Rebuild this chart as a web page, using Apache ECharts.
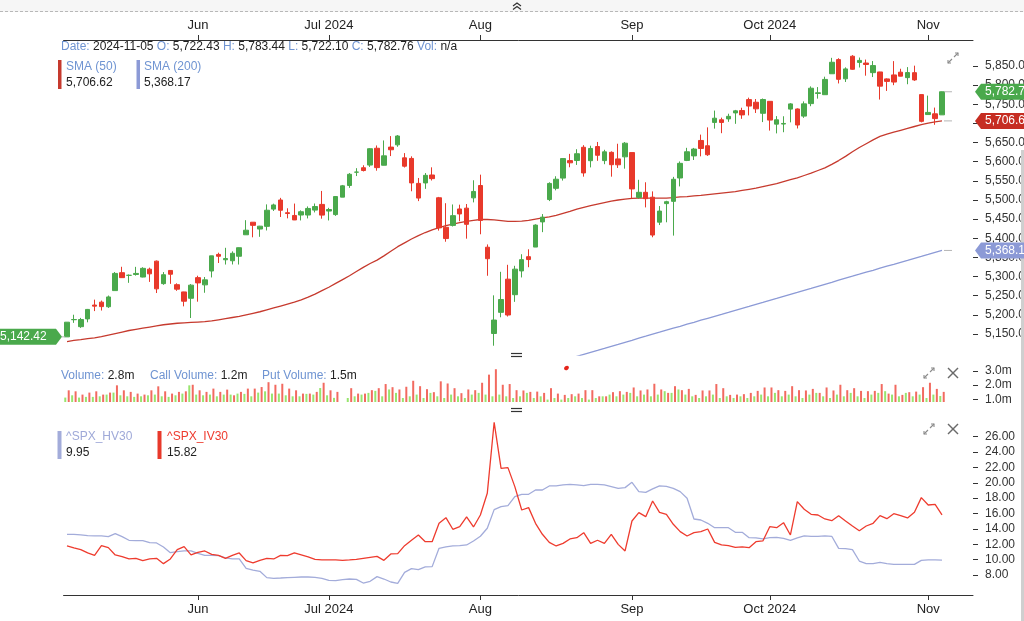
<!DOCTYPE html>
<html><head><meta charset="utf-8">
<script src="https://cdn.jsdelivr.net/npm/echarts@6/dist/echarts.min.js"></script>
<style>html,body{margin:0;padding:0;background:#fff;overflow:hidden}#c{width:1024px;height:621px}</style>
</head><body><div id="c"></div>
<script>
const dates = [
'2024-05-06','2024-05-07','2024-05-08','2024-05-09','2024-05-10','2024-05-13','2024-05-14','2024-05-15','2024-05-16','2024-05-17',
'2024-05-20','2024-05-21','2024-05-22','2024-05-23','2024-05-24','2024-05-28','2024-05-29','2024-05-30','2024-05-31',
'2024-06-03','2024-06-04','2024-06-05','2024-06-06','2024-06-07','2024-06-10','2024-06-11','2024-06-12','2024-06-13','2024-06-14',
'2024-06-17','2024-06-18','2024-06-20','2024-06-21','2024-06-24','2024-06-25','2024-06-26','2024-06-27','2024-06-28',
'2024-07-01','2024-07-02','2024-07-03','2024-07-05','2024-07-08','2024-07-09','2024-07-10','2024-07-11','2024-07-12',
'2024-07-15','2024-07-16','2024-07-17','2024-07-18','2024-07-19','2024-07-22','2024-07-23','2024-07-24','2024-07-25','2024-07-26',
'2024-07-29','2024-07-30','2024-07-31',
'2024-08-01','2024-08-02','2024-08-05','2024-08-06','2024-08-07','2024-08-08','2024-08-09','2024-08-12','2024-08-13','2024-08-14',
'2024-08-15','2024-08-16','2024-08-19','2024-08-20','2024-08-21','2024-08-22','2024-08-23','2024-08-26','2024-08-27','2024-08-28',
'2024-08-29','2024-08-30',
'2024-09-03','2024-09-04','2024-09-05','2024-09-06','2024-09-09','2024-09-10','2024-09-11','2024-09-12','2024-09-13',
'2024-09-16','2024-09-17','2024-09-18','2024-09-19','2024-09-20','2024-09-23','2024-09-24','2024-09-25','2024-09-26','2024-09-27','2024-09-30',
'2024-10-01','2024-10-02','2024-10-03','2024-10-04','2024-10-07','2024-10-08','2024-10-09','2024-10-10','2024-10-11',
'2024-10-14','2024-10-15','2024-10-16','2024-10-17','2024-10-18','2024-10-21','2024-10-22','2024-10-23','2024-10-24','2024-10-25',
'2024-10-28','2024-10-29','2024-10-30','2024-10-31',
'2024-11-01','2024-11-04','2024-11-05'];
const padSlots = ['','','',''];

const opens = [
5142.42,5187.20,5168.98,5189.31,5225.49,5233.08,5221.10,5263.26,5310.07,5303.10,
5305.35,5298.69,5319.28,5340.26,5281.45,5315.91,5278.73,5259.77,5243.21,
5297.15,5278.24,5314.48,5357.80,5343.81,5341.22,5353.00,5409.13,5441.93,5424.08,
5431.11,5476.15,5499.99,5466.77,5459.58,5460.73,5460.71,5473.59,5488.48,
5471.08,5461.84,5507.44,5537.91,5572.75,5584.24,5591.26,5635.21,5590.76,
5638.16,5644.09,5610.07,5608.56,5543.37,5544.54,5565.30,5505.84,5428.70,5433.67,
5476.55,5478.73,5505.59,
5537.84,5376.63,5151.14,5206.42,5293.13,5252.57,5314.66,5351.88,5376.98,5442.71,
5501.13,5530.50,5557.23,5602.88,5603.09,5637.77,5602.67,5639.66,5602.89,5624.51,
5607.30,5612.74,
5623.89,5506.68,5520.08,5507.33,5442.07,5490.51,5496.42,5557.48,5603.34,
5615.21,5655.51,5641.68,5702.63,5709.60,5711.90,5727.52,5733.65,5762.22,5755.36,5726.52,
5757.73,5698.19,5698.40,5737.42,5737.80,5719.14,5751.80,5778.36,5775.09,
5829.81,5866.74,5816.58,5875.62,5859.43,5857.82,5832.70,5834.50,5816.31,5826.75,
5833.93,5819.68,5832.65,5775.34,
5723.22,5725.15,5722.43];
const highs = [
5181.00,5200.23,5191.95,5215.30,5239.66,5237.26,5250.37,5311.76,5325.49,5305.45,
5325.32,5324.32,5323.18,5341.88,5311.65,5315.91,5282.27,5260.21,5280.33,
5302.11,5298.80,5354.16,5362.35,5375.08,5365.79,5375.95,5447.25,5441.93,5432.39,
5488.50,5490.38,5505.53,5478.31,5490.66,5472.88,5483.14,5490.81,5523.64,
5479.55,5509.69,5539.27,5570.33,5583.11,5590.75,5635.39,5642.45,5655.56,
5666.94,5669.67,5622.49,5614.05,5557.50,5570.36,5585.34,5508.04,5491.59,5488.32,
5487.74,5489.46,5551.51,
5566.16,5383.89,5250.89,5312.34,5330.64,5328.03,5358.23,5371.20,5436.50,5463.22,
5546.23,5561.98,5608.30,5620.51,5632.68,5643.22,5641.82,5651.62,5631.18,5627.03,
5646.95,5651.37,
5623.89,5552.74,5546.30,5522.47,5484.20,5497.91,5560.41,5600.71,5636.27,
5636.05,5670.81,5689.75,5733.57,5715.14,5725.36,5735.32,5741.03,5767.37,5763.78,5765.14,
5757.73,5719.14,5718.78,5753.04,5739.34,5757.60,5796.80,5795.03,5822.13,
5871.41,5870.36,5846.52,5878.46,5872.17,5866.92,5863.04,5834.85,5817.80,5862.82,
5842.92,5847.19,5850.94,5775.34,
5772.66,5741.43,5783.44];
const lows = [
5142.42,5178.96,5165.86,5180.41,5209.68,5211.16,5217.98,5263.26,5296.19,5283.59,
5302.40,5297.87,5286.01,5256.93,5278.39,5280.89,5262.70,5222.10,5191.68,
5234.32,5257.63,5297.64,5335.36,5331.33,5331.52,5331.33,5409.13,5402.51,5403.75,
5420.40,5471.32,5455.56,5452.03,5447.59,5446.56,5451.87,5467.54,5451.12,
5446.53,5458.43,5507.42,5531.63,5562.51,5574.57,5586.44,5576.53,5590.44,
5614.75,5639.02,5584.81,5522.81,5497.04,5529.04,5550.90,5419.98,5390.95,5430.70,
5444.44,5398.96,5493.75,
5410.42,5302.03,5119.26,5193.56,5195.54,5233.85,5297.64,5324.37,5376.98,5415.99,
5497.15,5525.17,5550.74,5585.50,5591.57,5560.95,5585.16,5602.34,5593.48,5560.95,
5583.71,5581.79,
5504.33,5503.41,5480.63,5402.62,5434.49,5441.72,5406.96,5535.50,5601.65,
5604.53,5614.05,5615.08,5686.42,5674.49,5704.22,5698.99,5712.06,5721.01,5727.34,5703.53,
5681.28,5674.00,5677.04,5702.83,5686.85,5714.56,5745.02,5764.76,5775.09,
5829.81,5804.48,5808.34,5840.25,5846.11,5824.80,5821.17,5762.41,5784.92,5799.98,
5823.08,5802.40,5811.28,5702.86,
5723.22,5696.51,5722.10];
const closes = [
5180.74,5187.70,5187.67,5214.08,5222.68,5221.42,5246.68,5308.15,5297.10,5303.27,
5308.13,5321.41,5307.01,5267.84,5304.72,5306.04,5266.95,5235.48,5277.51,
5283.40,5291.34,5354.03,5352.96,5346.99,5360.79,5375.32,5421.03,5433.74,5431.60,
5473.23,5487.03,5473.17,5464.62,5447.87,5469.30,5477.90,5482.87,5460.48,
5475.09,5509.01,5537.02,5567.19,5572.85,5576.98,5633.91,5584.54,5615.35,
5631.22,5667.20,5588.27,5544.59,5505.00,5564.41,5555.74,5427.13,5399.22,5459.10,
5463.54,5436.44,5522.30,
5446.68,5346.56,5186.33,5240.03,5199.50,5319.31,5344.16,5344.39,5434.43,5455.21,
5543.22,5554.25,5608.25,5597.12,5620.85,5570.64,5634.61,5616.84,5625.80,5592.18,
5591.96,5648.40,
5528.93,5520.07,5503.41,5408.42,5471.05,5495.52,5554.13,5595.76,5626.02,
5633.09,5634.58,5618.26,5713.64,5702.55,5718.57,5732.93,5722.26,5745.37,5738.17,5762.48,
5708.75,5709.54,5699.94,5751.07,5695.94,5751.13,5792.04,5780.05,5815.03,
5859.85,5815.26,5842.47,5841.47,5864.67,5853.98,5851.20,5797.42,5809.86,5808.12,
5823.52,5832.92,5813.67,5705.45,
5728.80,5712.69,5782.76];

const sma50 = [
5130,5133,5135,5138,5140,5143,5147,5151,5155,5159,
5162,5165,5168,5171,5174,5176,5178,5179,5180,5181,
5182,5184,5187,5190,5193,5196,5200,5204,5208,5213,
5218,5223,5228,5233,5239,5246,5254,5263,5272,5282,
5292,5302,5313,5324,5334,5343,5354,5366,5378,5388,
5398,5407,5415,5422,5428,5433,5437,5441,5444,5447,
5449,5449,5448,5446,5444,5444,5445,5447,5450,5453,
5456,5460,5465,5470,5476,5481,5485,5489,5493,5497,
5500,5502,5504,5505,5505,5505,5505,5505,5506,5508,
5509,5511,5512,5514,5516,5518,5520,5522,5525,5528,
5531,5535,5539,5543,5548,5553,5558,5564,5570,5577,
5584,5593,5603,5614,5626,5637,5647,5657,5666,5672,
5677,5682,5687,5692,5697,5701,5704,5706.62];

const sma200 = [
null,null,null,null,null,null,null,null,null,null,
null,null,null,null,null,null,null,null,null,null,
null,null,null,null,null,null,null,null,null,null,
null,null,null,null,null,null,null,null,null,null,
null,null,null,null,null,null,null,null,null,null,
null,null,null,null,null,null,null,null,null,null,
null,null,null,null,null,null,null,null,null,null,
null,null,null,5086.0,5091.3,5096.6,5101.9,5107.1,5112.4,5117.8,
5123.0,5128.3,5133.5,5138.8,5144.0,5149.3,5154.5,5159.8,5165.0,5170.1,
5175.4,5180.5,5185.8,5191.0,5196.2,5201.3,5206.5,5211.8,5217.0,5222.1,
5227.4,5232.5,5237.9,5243.0,5248.3,5253.5,5258.7,5264.1,5269.2,5274.5,
5279.8,5285.0,5290.4,5295.7,5300.8,5306.0,5311.3,5316.4,5321.7,5326.9,
5332.0,5337.3,5342.4,5347.6,5352.5,5357.6,5363.0,5368.17];

const callVol = [
1.13,1.29,1.13,1.18,1.18,1.22,1.34,1.48,1.29,1.22,
1.18,1.22,1.29,1.34,1.22,1.18,1.29,1.41,1.99,1.34,
1.29,1.34,1.22,1.34,1.34,1.41,1.39,1.22,1.48,1.57,
1.41,1.41,1.29,1.22,1.22,1.39,1.34,1.80,1.29,1.11,
null,1.10,1.22,1.34,1.46,1.60,1.22,1.70,1.46,1.10,
1.22,1.34,1.10,1.46,1.22,1.10,1.34,1.22,1.10,1.34,
1.46,1.34,1.22,1.34,1.22,1.10,1.22,1.46,1.10,1.22,
0.99,1.10,0.99,1.10,1.22,1.10,0.99,1.10,1.22,1.34,
1.22,1.34,1.46,1.22,1.34,1.22,1.34,1.58,1.46,1.70,
1.34,1.22,1.10,1.22,1.34,1.10,1.22,1.10,1.22,1.10,
1.22,1.34,1.22,1.46,1.22,1.34,1.22,1.10,1.34,1.46,
1.22,1.10,1.34,1.22,1.46,1.22,1.10,1.34,1.46,1.58,
1.34,1.22,1.46,1.22,1.34,1.10,1.34,1.24];
const putVol = [
1.64,1.57,1.34,1.48,1.57,1.34,1.48,1.99,1.64,1.53,
1.41,1.34,1.64,1.92,1.57,1.41,1.53,1.57,2.03,1.64,
1.53,1.76,1.53,1.69,1.29,1.53,1.76,1.76,1.87,2.21,
2.03,2.10,1.76,1.64,1.41,1.41,1.53,2.17,1.64,1.53,
null,1.79,1.41,1.41,1.65,1.79,2.08,1.86,1.70,1.89,
2.31,1.93,1.72,1.51,2.27,2.12,1.79,1.44,1.70,1.65,
2.17,2.74,3.12,2.03,2.08,1.65,1.63,1.53,1.55,1.46,
1.79,1.41,1.32,1.37,1.41,1.65,1.65,1.22,1.22,1.51,
1.58,1.53,1.84,1.63,1.70,2.10,1.70,1.46,1.93,1.65,
1.74,1.32,1.63,1.63,2.08,1.79,1.32,1.34,1.37,1.46,
1.60,1.84,1.84,1.65,1.60,1.93,1.65,1.63,1.74,1.46,
1.84,1.63,2.03,1.65,1.79,1.60,1.58,1.60,2.08,1.41,
2.03,1.32,1.51,1.55,1.86,2.17,1.74,1.53];

const hv30 = [
13.30,13.30,13.21,13.12,13.08,13.08,12.99,13.38,12.99,12.52,
12.47,12.47,12.21,12.17,11.65,10.91,11.04,11.13,11.13,10.82,
10.56,10.56,10.52,10.22,10.09,10.09,8.87,8.65,8.48,7.66,
7.57,7.61,7.66,7.70,7.74,7.74,7.70,7.57,7.31,7.27,
7.40,7.48,7.44,6.96,7.18,7.79,7.48,7.09,6.92,8.35,
8.83,8.70,9.05,9.09,11.47,11.65,11.78,11.82,11.91,12.43,
13.04,14.08,16.51,16.90,17.03,18.20,18.50,18.50,19.06,19.06,
19.59,19.59,19.72,19.80,19.72,19.63,19.80,19.80,19.72,19.50,
19.28,19.37,20.06,18.85,18.76,19.20,19.59,19.54,19.28,18.85,
17.98,15.29,15.16,14.73,14.16,14.16,14.16,13.56,13.56,12.86,
12.82,12.69,12.86,12.91,12.77,12.52,12.82,13.08,13.04,13.04,
13.08,13.04,11.47,11.43,11.30,9.82,9.48,9.48,9.65,9.48,
9.39,9.39,9.39,9.39,9.91,9.96,9.96,9.95];
const iv30 = [
11.78,11.52,11.30,10.87,10.56,11.82,11.56,10.61,10.39,10.09,
10.17,9.87,10.09,10.17,9.48,10.09,11.30,11.69,10.61,10.95,
11.13,10.69,10.56,10.17,10.56,10.87,9.87,9.57,9.91,10.17,
10.09,10.56,10.52,10.87,10.61,10.35,10.04,9.96,9.96,9.96,
9.91,9.96,10.04,10.17,10.30,10.43,9.91,10.74,10.78,11.82,
12.52,13.21,12.34,12.34,14.73,15.46,13.95,14.29,15.55,14.25,
15.81,18.63,27.87,21.88,21.97,19.50,16.46,16.77,14.73,13.30,
12.25,11.78,12.12,12.69,12.86,13.51,12.12,12.52,12.12,13.30,
11.99,11.13,15.03,16.12,15.59,17.63,16.16,15.90,14.60,13.64,
13.08,13.51,13.64,13.99,12.25,11.91,11.82,11.60,11.65,11.56,
12.34,12.43,14.29,14.16,14.81,13.21,17.55,16.55,15.90,15.81,
15.29,15.07,15.72,15.03,14.38,13.77,14.38,14.73,15.72,15.33,
15.98,15.72,15.42,16.16,18.07,17.11,17.20,15.82];

const priceTicks = [5150,5200,5250,5300,5350,5400,5450,5500,5550,5600,5650,5700,5750,5800,5850];
const volTicks = [1,2,3];
const ivTicks = [8,10,12,14,16,18,20,22,24,26];
const monthKeys = ['2024-06','2024-07','2024-08','2024-09','2024-10','2024-11'];
const monthLabels = ['Jun','Jul 2024','Aug','Sep','Oct 2024','Nov'];

const FONT = '"Liberation Sans", Arial, Helvetica, sans-serif';
const C_UP = '#4aa94c', C_DN = '#e8392b';
const C_SMA50 = '#c63a2e', C_SMA200 = '#8c9ad6';
const C_LBL = '#6f94d2';

const xCats = dates.concat(padSlots);
function isMonthStart(i){
  if (i <= 0 || i >= dates.length) return false;
  return dates[i].slice(0,7) !== dates[i-1].slice(0,7) && monthKeys.indexOf(dates[i].slice(0,7)) >= 0;
}
function monthFmt(v){
  const k = monthKeys.indexOf(String(v).slice(0,7));
  return k >= 0 ? monthLabels[k] : '';
}
function fmt2(v){
  const s = Number(v).toFixed(2).split('.');
  return s[0].replace(/\B(?=(\d{3})+(?!\d))/g, ',') + '.' + s[1];
}

function xAxisDef(gridIndex, position, show){
  return {
    type:'category', data:xCats, gridIndex:gridIndex, position:position, boundaryGap:true, show:show,
    axisLine:{show:true, onZero:false, lineStyle:{color:'#333', width:1}},
    axisTick:{show:true, alignWithLabel:true, length:5, interval:function(i){return isMonthStart(i);}, lineStyle:{color:'#333'}},
    axisLabel:{show:true, interval:function(i){return isMonthStart(i);}, formatter:monthFmt, color:'#222', fontSize:13, fontFamily:FONT, margin:8},
    splitLine:{show:false}
  };
}
function yAxisDef(gridIndex, min, max, ticks, fmt){
  return {
    type:'value', gridIndex:gridIndex, position:'right', min:min, max:max,
    axisLine:{show:false},
    axisTick:{show:true, length:5, customValues:ticks, lineStyle:{color:'#333'}},
    axisLabel:{show:true, customValues:ticks, formatter:fmt, color:'#333', fontSize:12, fontFamily:FONT, margin:12},
    splitLine:{show:false}
  };
}

const GL = 63.55, GW = 909.45;
const option = {
  animation:false,
  backgroundColor:'#ffffff',
  textStyle:{fontFamily:FONT},
  grid:[
    {left:GL, width:GW, top:40, height:315, containLabel:false, outerBoundsMode:'none'},
    {left:GL, width:GW, top:360, height:42, containLabel:false, outerBoundsMode:'none'},
    {left:GL, width:GW, top:418, height:177, containLabel:false, outerBoundsMode:'none'}
  ],
  xAxis:[ xAxisDef(0,'top',true), xAxisDef(1,'bottom',false), xAxisDef(2,'bottom',true) ],
  yAxis:[
    yAxisDef(0, 5095, 5918, priceTicks, function(v){return fmt2(v);}),
    yAxisDef(1, 0.82, 3.767, volTicks, function(v){return v.toFixed(1)+'m';}),
    yAxisDef(2, 5.40, 28.43, ivTicks, function(v){return v.toFixed(2);})
  ],
  series:[
    {type:'line', name:'SMA (50)', xAxisIndex:0, yAxisIndex:0, data:sma50, showSymbol:false, symbol:'none',
     lineStyle:{color:C_SMA50, width:1.3}, itemStyle:{color:C_SMA50}, clip:true, z:2},
    {type:'line', name:'SMA (200)', xAxisIndex:0, yAxisIndex:0, data:sma200, showSymbol:false, symbol:'none',
     lineStyle:{color:C_SMA200, width:1.3}, itemStyle:{color:C_SMA200}, clip:true, z:2},
    {type:'candlestick', name:'SPX', xAxisIndex:0, yAxisIndex:0, barWidth:5, z:3,
     data: opens.map(function(o,i){return [o, closes[i], lows[i], highs[i]];}),
     itemStyle:{color:C_UP, color0:C_DN, borderColor:C_UP, borderColor0:C_DN, borderColorDoji:C_UP, borderWidth:1}},
    {type:'bar', name:'Call Volume', xAxisIndex:1, yAxisIndex:1, data:callVol, barWidth:2, barGap:'72%',
     itemStyle:{color:'#98e56e'}, clip:true},
    {type:'bar', name:'Put Volume', xAxisIndex:1, yAxisIndex:1, data:putVol, barWidth:2, barGap:'72%',
     itemStyle:{color:'#f26a60'}, clip:true},
    {type:'line', name:'^SPX_HV30', xAxisIndex:2, yAxisIndex:2, data:hv30, showSymbol:false, symbol:'none',
     lineStyle:{color:'#a3acda', width:1.3}},
    {type:'line', name:'^SPX_IV30', xAxisIndex:2, yAxisIndex:2, data:iv30, showSymbol:false, symbol:'none',
     lineStyle:{color:'#ee3b2e', width:1.3}}
  ]
};

const chart = echarts.init(document.getElementById('c'), null, {renderer:'canvas', width:1024, height:621});
chart.setOption(option);

// ---------- overlays ----------
const last = dates.length - 1;
const F12 = '12px ' + FONT;
function txt(x, y, text, rich, fill){
  return {type:'text', x:x, y:y, silent:true, z:100,
    style:{text:text, font:F12, fill:fill||'#222', verticalAlign:'middle', textVerticalAlign:'middle', rich:rich||undefined}};
}
function ln(x1,y1,x2,y2,stroke,w,dash){
  return {type:'line', silent:true, z:100, shape:{x1:x1,y1:y1,x2:x2,y2:y2}, style:{stroke:stroke, lineWidth:w||1, lineDash:dash||null}};
}
function pl(points, stroke, w){
  return {type:'polyline', silent:true, z:100, shape:{points:points}, style:{stroke:stroke, lineWidth:w||1, fill:null}};
}
function rect(x,y,w,h,fill){
  return {type:'rect', silent:true, z:99, shape:{x:x,y:y,width:w,height:h}, style:{fill:fill}};
}
function expandIcon(cx, cy){
  const c = '#8a8a8a';
  return [
    ln(cx-5, cy+5, cx-1, cy+1, c, 1.1), ln(cx+1, cy-1, cx+5, cy-5, c, 1.1),
    pl([[cx-5, cy+2],[cx-5, cy+5],[cx-2, cy+5]], c, 1.1),
    pl([[cx+2, cy-5],[cx+5, cy-5],[cx+5, cy-2]], c, 1.1)
  ];
}
function closeIcon(cx, cy){
  const c = '#6a6a6a';
  return [ln(cx-5, cy-5, cx+5, cy+5, c, 1.4), ln(cx-5, cy+5, cx+5, cy-5, c, 1.4)];
}
function tagRight(x, y, color, text){
  return [
    {type:'polygon', silent:true, z:101, shape:{points:[[x,y],[x+6,y-8],[x+70,y-8],[x+70,y+8],[x+6,y+8]]}, style:{fill:color}},
    {type:'text', silent:true, z:102, x:x+10, y:y, style:{text:text, font:F12, fill:'#fff', verticalAlign:'middle', textVerticalAlign:'middle'}}
  ];
}
function tagLeft(x, y, color, text){
  return [
    {type:'polygon', silent:true, z:101, shape:{points:[[x,y],[x-6,y-8],[x-70,y-8],[x-70,y+8],[x-6,y+8]]}, style:{fill:color}},
    {type:'text', silent:true, z:102, x:x-8, y:y, style:{text:text, font:F12, fill:'#fff', align:'right', textAlign:'right', verticalAlign:'middle', textVerticalAlign:'middle'}}
  ];
}

const richL = {
  l:{fill:C_LBL, font:F12},
  v:{fill:'#222', font:F12}
};
const g = [];
// top strip
g.push(rect(0,0,1024,12,'#f6f6f6'));
g.push(ln(0,11.5,1024,11.5,'#b8b8b8',1,[3,2]));
g.push(pl([[513,6],[517,3],[521,6]], '#333', 1.2));
g.push(pl([[513,9.5],[517,6.5],[521,9.5]], '#333', 1.2));
// right scroll strip
g.push(rect(1021,150,3,471,'#cfcfcf'));

// header line
g.push(txt(61, 47,
  '{l|Date:} {v|' + dates[last] + '} {l|O:} {v|' + fmt2(opens[last]) + '} {l|H:} {v|' + fmt2(highs[last]) +
  '} {l|L:} {v|' + fmt2(lows[last]) + '} {l|C:} {v|' + fmt2(closes[last]) + '} {l|Vol:} {v|n/a}', richL));
// SMA legend
g.push(rect(58,60,3.5,29,C_SMA50));
g.push(txt(66,67,'SMA (50)',null,C_LBL));
g.push(txt(66,83,fmt2(sma50[last]),null,'#222'));
g.push(rect(136.5,60,3.5,29,C_SMA200));
g.push(txt(144,67,'SMA (200)',null,C_LBL));
g.push(txt(144,83,fmt2(sma200[last]),null,'#222'));

// volume legend
const cv = callVol[last], pv = putVol[last];
g.push(txt(61,376,'{l|Volume:} {v|' + (cv+pv).toFixed(1) + 'm}', richL));
g.push(txt(150,376,'{l|Call Volume:} {v|' + cv.toFixed(1) + 'm}', richL));
g.push(txt(262,376,'{l|Put Volume:} {v|' + pv.toFixed(1) + 'm}', richL));

// IV/HV legend
g.push(rect(57.5,431,4,28,'#a3acda'));
g.push(txt(66,437,'^SPX_HV30',null,'#9fa9d8'));
g.push(txt(66,453,hv30[last].toFixed(2),null,'#222'));
g.push(rect(157.5,431,4,28,'#e8392b'));
g.push(txt(167,437,'^SPX_IV30',null,'#ee3b2e'));
g.push(txt(167,453,iv30[last].toFixed(2),null,'#222'));

// pane dividers
g.push(ln(511,353.5,522,353.5,'#333',1.2)); g.push(ln(511,356.5,522,356.5,'#333',1.2));
g.push(ln(511,408.5,522,408.5,'#333',1.2)); g.push(ln(511,411.5,522,411.5,'#333',1.2));
// red marker near the top of volume pane
g.push({type:'ellipse', silent:true, z:100, shape:{cx:566.5, cy:368, rx:2.6, ry:2}, rotation:0.6, originX:566.5, originY:368, style:{fill:'#e5241b'}});

// icons
expandIcon(953,58).forEach(function(e){g.push(e);});
expandIcon(929,373).forEach(function(e){g.push(e);});
closeIcon(953,373).forEach(function(e){g.push(e);});
expandIcon(929,429).forEach(function(e){g.push(e);});
closeIcon(953,429).forEach(function(e){g.push(e);});

// price tags (positions from the axes)
const toPx = function(i, v){ return chart.convertToPixel({xAxisIndex:0, yAxisIndex:0}, [dates[i], v]); };
const pClose = toPx(last, closes[last]);
const pS50 = toPx(last, sma50[last]);
const pS200 = toPx(last, sma200[last]);
const pOpen0 = toPx(0, opens[0]);
const tagX = GL + GW + 2;
[[pClose, C_UP, closes[last]], [pS50, '#c62d22', sma50[last]], [pS200, C_SMA200, sma200[last]]].forEach(function(t){
  g.push(ln(t[0][0]+2, t[0][1], t[0][0]+10, t[0][1], '#b5b5b5', 1));
  tagRight(tagX, t[0][1], t[1], fmt2(t[2])).forEach(function(e){g.push(e);});
});
g.push(ln(pOpen0[0]-5, pOpen0[1], pOpen0[0]-2, pOpen0[1], '#b5b5b5', 1));
tagLeft(pOpen0[0]-5, pOpen0[1], C_UP, fmt2(opens[0])).forEach(function(e){g.push(e);});
// left tag text anchored at start
g[g.length-1].style.align = 'left'; g[g.length-1].style.textAlign = 'left'; g[g.length-1].x = 0;

chart.setOption({graphic:{elements:g}});
</script>
</body></html>
